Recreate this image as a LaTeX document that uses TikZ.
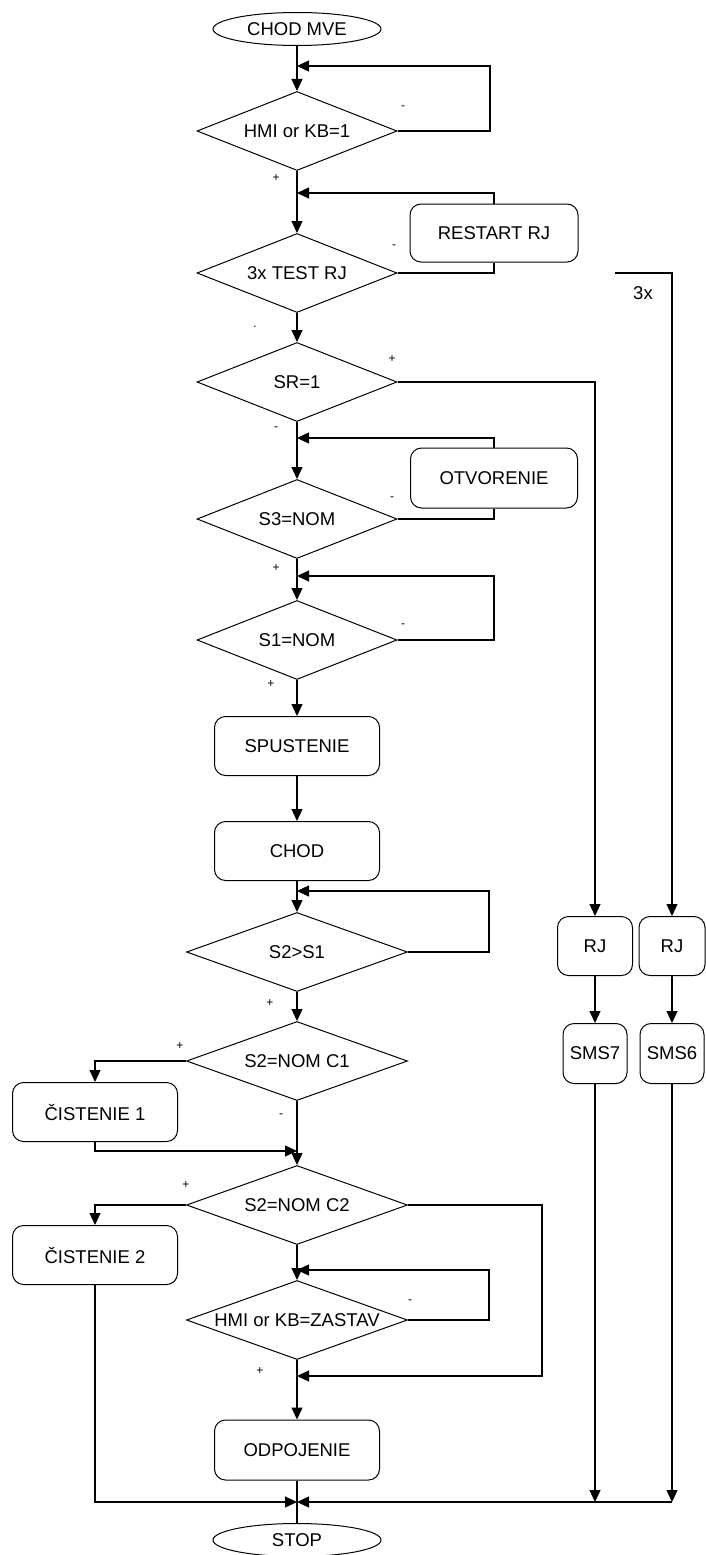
\documentclass[tikz,border=0pt]{standalone}
\usepackage{fontspec}
\setmainfont{Liberation Sans}
\usetikzlibrary{shapes.geometric,arrows.meta,positioning}

\begin{document}
\begin{tikzpicture}[x=1pt, y=-1pt,
  term/.style={ellipse, draw, line width=1pt, minimum width=168pt,
               minimum height=33pt, inner sep=0pt,
               font=\fontsize{18.5}{21}\selectfont},
  decision/.style={diamond, draw, aspect=2.6, inner sep=0pt, line width=1pt,
                   minimum width=200pt, minimum height=79pt,
                   font=\fontsize{18.5}{21}\selectfont},
  widedecision/.style={decision, minimum width=221pt},
  procbox/.style={rectangle, draw, rounded corners=11pt, line width=1pt,
                  minimum width=165pt, minimum height=59pt,
                  font=\fontsize{18.5}{21}\selectfont},
  smallbox/.style={procbox, minimum width=66pt},
  sign/.style={font=\fontsize{12}{12}\selectfont},
  edge/.style={draw, -{Triangle[length=12pt,width=11pt]}, line width=1.2pt},
  plain/.style={draw, line width=1.2pt},
]
  \useasboundingbox (0,0) rectangle (706,1555);

  % ========= MAIN COLUMN =========
  \node[term] (start) at (297,29) {CHOD MVE};
  \coordinate (m1) at (297,66);
  \node[decision] (hmi) at (297,131) {HMI or KB=1};
  \coordinate (m2) at (297,193);
  \node[decision] (test) at (297,273) {3x TEST RJ};
  \node[procbox, minimum width=168pt, minimum height=58pt] (restart)
       at (494,233) {RESTART RJ};
  \node[decision] (sr) at (297,382) {SR=1};
  \coordinate (m3) at (297,438);
  \node[procbox, minimum width=167pt, minimum height=60pt] (otv)
       at (494,478) {OTVORENIE};
  \node[decision] (s3) at (297,519) {S3=NOM};
  \coordinate (m4) at (297,576);
  \node[decision] (s1) at (297,640) {S1=NOM};
  \node[procbox] (spust) at (297,746) {SPUSTENIE};
  \node[procbox] (chod) at (297,851) {CHOD};
  \coordinate (m5) at (297,891);
  \node[widedecision] (s2s1) at (297,952) {S2>S1};
  \node[widedecision] (c1) at (297,1061) {S2=NOM C1};
  \node[procbox] (cist1) at (95,1112) {ČISTENIE 1};
  \coordinate (m6) at (297,1151);
  \node[widedecision] (c2) at (297,1205) {S2=NOM C2};
  \node[procbox] (cist2) at (95,1255) {ČISTENIE 2};
  \coordinate (m7) at (297,1270);
  \node[widedecision] (zastav) at (297,1320) {HMI or KB=ZASTAV};
  \coordinate (m8) at (297,1376);
  \node[procbox, minimum height=60pt] (odp) at (297,1450) {ODPOJENIE};
  \coordinate (m9) at (297,1502);
  \node[term] (stop) at (297,1540) {STOP};

  % loop corners
  \coordinate (l1) at (490,66);
  \coordinate (l4) at (494,576);
  \coordinate (l5) at (489,891);
  \coordinate (l7) at (489,1270);
  \coordinate (r8) at (542,1376);

  % ========= RIGHT BRANCHES =========
  \node[smallbox, minimum width=75pt] (rj1) at (595,946) {RJ};
  \node[smallbox, minimum width=64pt, minimum height=60pt, below=47pt of rj1]
       (sms7) {SMS7};
  \node[smallbox] (rj2) at (672,946) {RJ};
  \node[smallbox, minimum width=64pt, minimum height=60pt, below=47pt of rj2]
       (sms6) {SMS6};
  \coordinate (x3) at (615,273);
  \coordinate (j7) at (595,1502);
  \coordinate (j6) at (672,1502);
  \node[font=\fontsize{18.5}{21}\selectfont] (n3x) at (643,293) {3x};

  % Edges
  \draw[edge] (start) -- (hmi);
  \draw[edge] (hmi.east) -| (l1) -- (m1);
  \draw[edge] (hmi) -- (test);
  \draw[plain] (test.east) -| (restart.south);
  \draw[edge] (restart.north) |- (m2);
  \draw[edge] (test) -- (sr);
  \draw[edge] (sr.east) -| (rj1.north);
  \draw[edge] (x3) -| (rj2.north);
  \draw[edge] (sr) -- (s3);
  \draw[plain] (s3.east) -| (otv.south);
  \draw[edge] (otv.north) |- (m3);
  \draw[edge] (s3) -- (s1);
  \draw[edge] (s1.east) -| (l4) -- (m4);
  \draw[edge] (s1) -- (spust);
  \draw[edge] (spust) -- (chod);
  \draw[edge] (chod) -- (s2s1);
  \draw[edge] (s2s1.east) -| (l5) -- (m5);
  \draw[edge] (s2s1) -- (c1);
  \draw[edge] (c1.west) -| (cist1.north);
  \draw[edge] (cist1.south) |- (m6);
  \draw[edge] (c1) -- (c2);
  \draw[edge] (c2.west) -| (cist2.north);
  \draw[edge] (c2.east) -| (r8) -- (m8);
  \draw[edge] (c2) -- (zastav);
  \draw[edge] (zastav.east) -| (l7) -- (m7);
  \draw[edge] (zastav) -- (odp);
  \draw[plain] (odp) -- (stop);
  \draw[edge] (cist2.south) |- (m9);
  \draw[edge] (rj1) -- (sms7);
  \draw[edge] (rj2) -- (sms6);
  \draw[edge] (sms7.south) -- (j7);
  \draw[edge] (sms6.south) -- (j6);
  \draw[edge] (j6) -- (m9);

  % +/- marks
  \node[sign] (g1) at (403,108) {-};
  \node[sign] (g2) at (276,178) {+};
  \node[sign] (g3) at (394,247) {-};
  \node[sign] (g4) at (255,327) {.};
  \node[sign] (g5) at (392,359) {+};
  \node[sign] (g6) at (276,429) {-};
  \node[sign] (g7) at (392,499) {-};
  \node[sign] (g8) at (276,568) {+};
  \node[sign] (g9) at (403,626) {-};
  \node[sign] (g10) at (271,684) {+};
  \node[sign] (g11) at (270,1003) {+};
  \node[sign] (g12) at (180,1046) {+};
  \node[sign] (g13) at (281,1116) {-};
  \node[sign] (g14) at (186,1185) {+};
  \node[sign] (g15) at (410,1302) {-};
  \node[sign] (g16) at (260,1371) {+};
\end{tikzpicture}
\end{document}
